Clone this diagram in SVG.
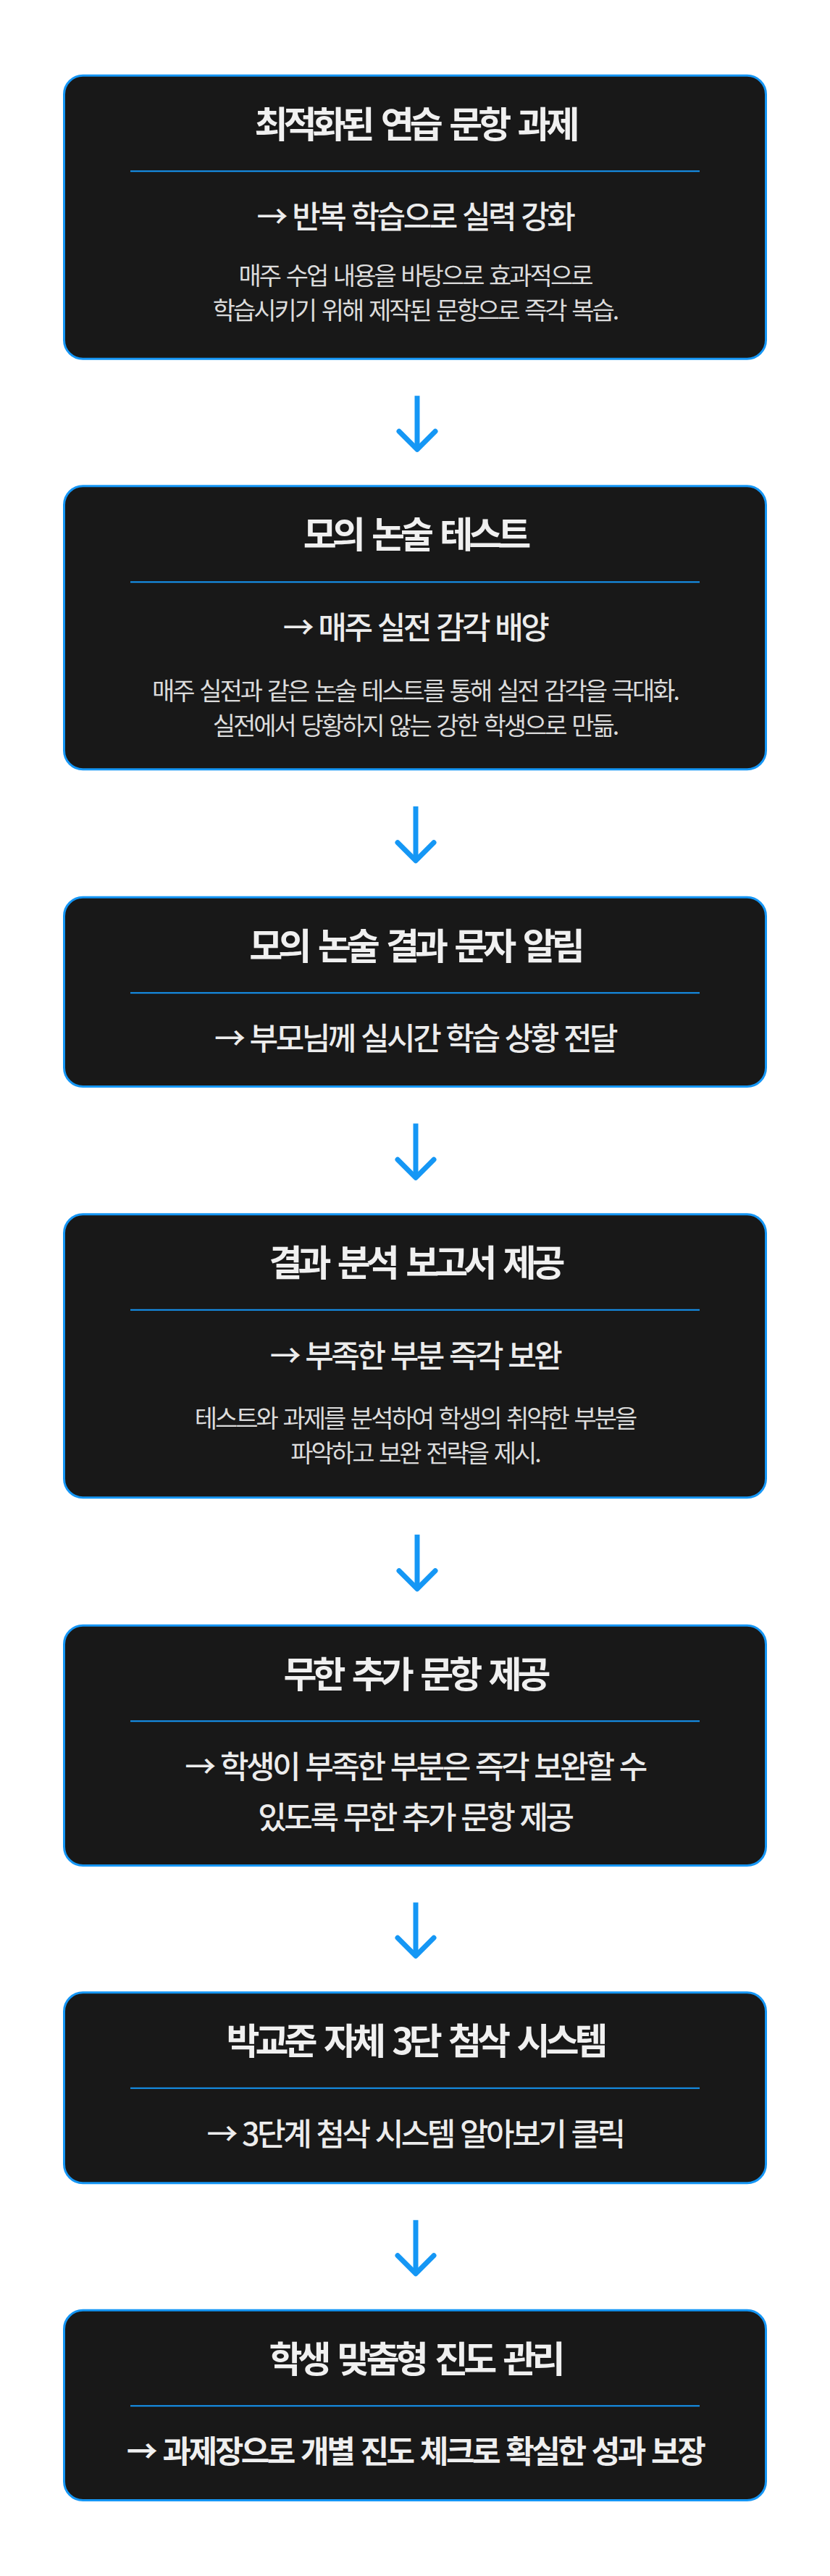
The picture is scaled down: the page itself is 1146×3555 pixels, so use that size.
<svg xmlns="http://www.w3.org/2000/svg" width="1146" height="3555" viewBox="0 0 1146 3555">
<style>
.bg{fill:#ffffff}
.box{fill:#181818;stroke:#1596f5;stroke-width:3}
.dv{stroke:#1596f5;stroke-width:2}
text{font-family:"Noto Sans CJK KR","Noto Sans",sans-serif;text-anchor:middle}
.t{font-size:50px;font-weight:700;letter-spacing:-6px;word-spacing:9px;fill:#f0f0f0}
.s{font-size:43px;font-weight:500;letter-spacing:-3.5px;word-spacing:3px;fill:#ececec}
.sb{font-size:43px;font-weight:700;letter-spacing:-3.5px;word-spacing:4px;fill:#efefef}
.d{font-size:34px;font-weight:400;letter-spacing:-3px;word-spacing:4px;fill:#dcdcdc}
.shaft{fill:none;stroke:#1597f5;stroke-width:7;stroke-linecap:butt}
.head{fill:none;stroke:#1597f5;stroke-width:7;stroke-linecap:round;stroke-linejoin:round}
</style>
<rect class="bg" x="0" y="0" width="1146" height="3555"/>
<g id="connectors">
<path class="shaft" d="M576 546.2V618"/><path class="head" d="M551 595.3L576 620.3L601 595.3"/>
<path class="shaft" d="M574 1112.8V1185.5"/><path class="head" d="M549 1162.8L574 1187.8L599 1162.8"/>
<path class="shaft" d="M574 1550.5V1623"/><path class="head" d="M549 1600.3L574 1625.3L599 1600.3"/>
<path class="shaft" d="M576 2117.8V2190.4"/><path class="head" d="M551 2167.7L576 2192.7L601 2167.7"/>
<path class="shaft" d="M574 2625.5V2697"/><path class="head" d="M549 2674.3L574 2699.3L599 2674.3"/>
<path class="shaft" d="M574 3063.8V3135.4"/><path class="head" d="M549 3112.7L574 3137.7L599 3112.7"/>
</g>
<g id="node1">
<rect class="box" x="88.5" y="104.2" width="969" height="391" rx="26"/>
<text class="t" x="573" y="189.7">최적화된 연습 문항 과제</text>
<line class="dv" x1="180" y1="236.2" x2="966" y2="236.2"/>
<text class="s" x="573" y="315.2">→ 반복 학습으로 실력 강화</text>
<text class="d" x="573" y="393">매주 수업 내용을 바탕으로 효과적으로</text>
<text class="d" x="573" y="441">학습시키기 위해 제작된 문항으로 즉각 복습.</text>
</g>
<g id="node2">
<rect class="box" x="88.5" y="670.8" width="969" height="391" rx="26"/>
<text class="t" x="573" y="756.3">모의 논술 테스트</text>
<line class="dv" x1="180" y1="803.2" x2="966" y2="803.2"/>
<text class="s" x="573" y="881.8">→ 매주 실전 감각 배양</text>
<text class="d" x="573" y="966.2">매주 실전과 같은 논술 테스트를 통해 실전 감각을 극대화.</text>
<text class="d" x="573" y="1014.4">실전에서 당황하지 않는 강한 학생으로 만듦.</text>
</g>
<g id="node3">
<rect class="box" x="88.5" y="1238.3" width="969" height="261.2" rx="26"/>
<text class="t" x="573" y="1323.8">모의 논술 결과 문자 알림</text>
<line class="dv" x1="180" y1="1370.3" x2="966" y2="1370.3"/>
<text class="s" x="573" y="1449.3">→ 부모님께 실시간 학습 상황 전달</text>
</g>
<g id="node4">
<rect class="box" x="88.5" y="1675.8" width="969" height="391" rx="26"/>
<text class="t" x="573" y="1761.3">결과 분석 보고서 제공</text>
<line class="dv" x1="180" y1="1807.8" x2="966" y2="1807.8"/>
<text class="s" x="573" y="1886.8">→ 부족한 부분 즉각 보완</text>
<text class="d" x="573" y="1969.7">테스트와 과제를 분석하여 학생의 취약한 부분을</text>
<text class="d" x="573" y="2018">파악하고 보완 전략을 제시.</text>
</g>
<g id="node5">
<rect class="box" x="88.5" y="2243.2" width="969" height="331.3" rx="26"/>
<text class="t" x="573" y="2328.7">무한 추가 문항 제공</text>
<line class="dv" x1="180" y1="2375.2" x2="966" y2="2375.2"/>
<text class="s" x="573" y="2454.2">→ 학생이 부족한 부분은 즉각 보완할 수</text>
<text class="s" x="573" y="2524.2">있도록 무한 추가 문항 제공</text>
</g>
<g id="node6">
<rect class="box" x="88.5" y="2749.8" width="969" height="263" rx="26"/>
<text class="t" x="573" y="2835.3">박교준 자체 3단 첨삭 시스템</text>
<line class="dv" x1="180" y1="2881.8" x2="966" y2="2881.8"/>
<text class="s" x="573" y="2960.8">→ 3단계 첨삭 시스템 알아보기 클릭</text>
</g>
<g id="node7">
<rect class="box" x="88.5" y="3188.2" width="969" height="262.3" rx="26"/>
<text class="t" x="573" y="3273.7">학생 맞춤형 진도 관리</text>
<line class="dv" x1="180" y1="3320.2" x2="966" y2="3320.2"/>
<text class="sb" x="573" y="3399.2">→ 과제장으로 개별 진도 체크로 확실한 성과 보장</text>
</g>
</svg>
